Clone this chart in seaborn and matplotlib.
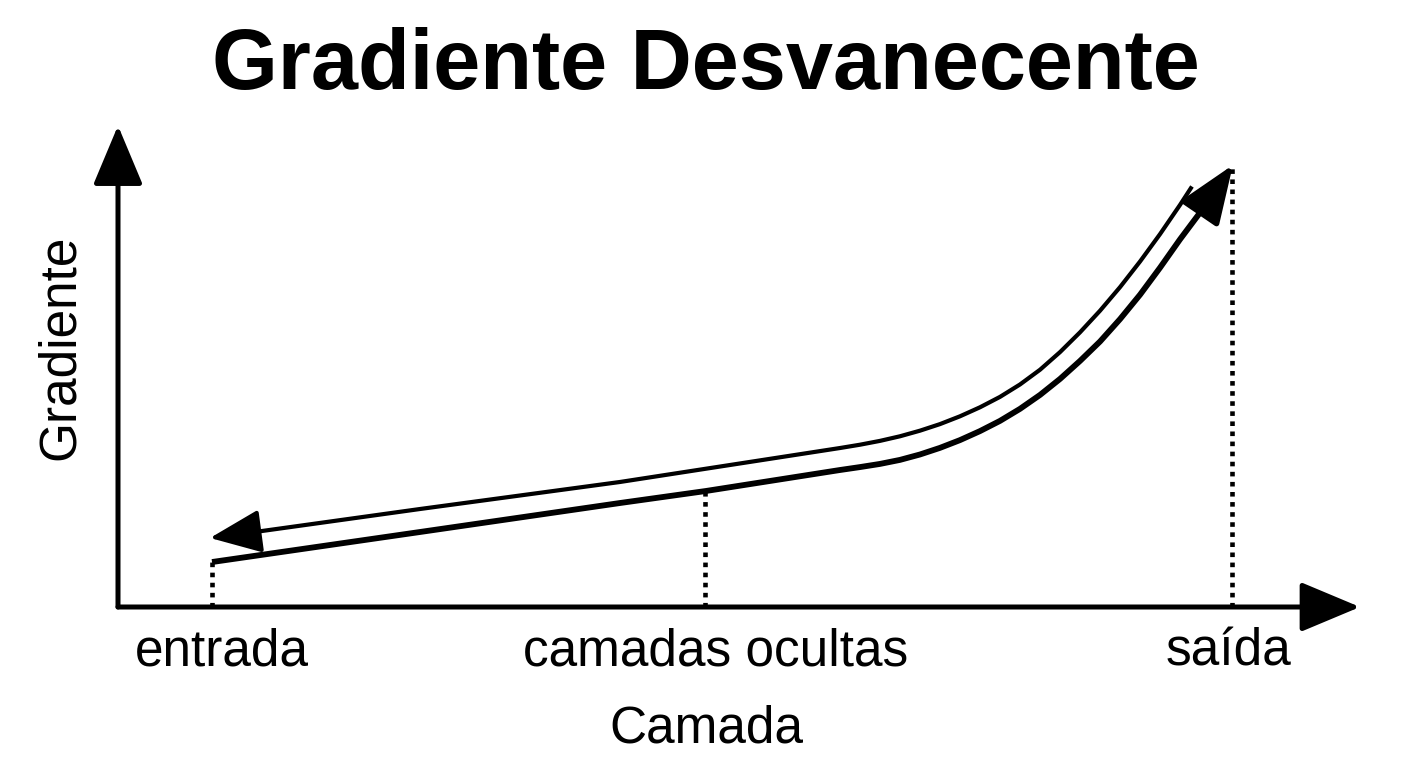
import matplotlib
matplotlib.use('Agg')
import matplotlib.pyplot as plt
import matplotlib.transforms as mtransforms
import seaborn as sns

sns.set_theme(style="white")
plt.rcParams['font.family'] = ['Liberation Sans', 'DejaVu Sans']

# layer positions on the x axis and their labels
layer_names = ["entrada", "camadas ocultas", "saída"]
layer_pos = [0.76, 4.73, 8.97]
layer_grad = [0.94, 2.42, 9.23]   # where the dotted lines meet the curve
label_shift_px = [9, 10, -4]       # labels sit a little off their guide line

# gradient magnitude (forward curve, thick, arrow at saída)
grad_x = [0.757, 2.432, 4.042, 4.734, 5.813, 5.974, 6.135, 6.296, 6.457, 6.618,
          6.779, 6.940, 7.101, 7.262, 7.424, 7.585, 7.746, 7.907, 8.068, 8.229,
          8.390, 8.551, 8.752, 8.977]
grad_y = [0.939, 1.566, 2.171, 2.422, 2.860, 2.921, 2.987, 3.071, 3.184, 3.322,
          3.484, 3.672, 3.885, 4.136, 4.428, 4.762, 5.138, 5.543, 6.010, 6.520,
          7.084, 7.676, 8.372, 9.228]

# backward pass (thin curve, arrow towards entrada)
back_x = [0.741, 1.103, 2.432, 4.042, 5.813, 5.974, 6.135, 6.296, 6.457, 6.618,
          6.779, 6.940, 7.101, 7.262, 7.424, 7.585, 7.746, 7.907, 8.068, 8.229,
          8.390, 8.551, 8.647]
back_y = [1.441, 1.566, 2.046, 2.610, 3.319, 3.388, 3.468, 3.564, 3.681, 3.818,
          3.981, 4.169, 4.386, 4.645, 4.954, 5.322, 5.735, 6.186, 6.678, 7.213,
          7.785, 8.395, 8.779]

fig = plt.figure(figsize=(14.08, 7.68), dpi=100)
ax = fig.add_axes([118 / 1408, 161 / 768, 1242 / 1408, 479 / 768])
ax.set_xlim(0, 10)
ax.set_ylim(0, 10)
sns.despine(ax=ax, left=True, bottom=True)

# axes drawn as arrows
ax_arrow = dict(arrowstyle="-|>,head_length=3.7,head_width=1.55", lw=3.6,
                color="black", shrinkA=0, shrinkB=0, mutation_scale=10)
ax.annotate("", xy=(10, 0), xytext=(0, 0), arrowprops=ax_arrow, annotation_clip=False)
ax.annotate("", xy=(0, 10.05), xytext=(0, 0), arrowprops=ax_arrow, annotation_clip=False)

# dotted guides
for xp, yp in zip(layer_pos, layer_grad):
    ax.plot([xp, xp], [0, yp], color="black", ls=(0, (1, 1.2)), lw=3.3)

# forward curve
sns.lineplot(x=grad_x[:-1], y=grad_y[:-1], sort=False, estimator=None,
             color="black", lw=4.2, ax=ax, solid_capstyle="butt")
ax.annotate("", xy=(grad_x[-1], grad_y[-1]), xytext=(grad_x[-2], grad_y[-2]),
            arrowprops=dict(arrowstyle="-|>,head_length=3.6,head_width=1.4", lw=4,
                            color="black", shrinkA=0, shrinkB=0, mutation_scale=10))

# backward curve
sns.lineplot(x=back_x[1:], y=back_y[1:], sort=False, estimator=None,
             color="black", lw=3.0, ax=ax, solid_capstyle="butt")
ax.annotate("", xy=(back_x[0], back_y[0]), xytext=(back_x[1], back_y[1]),
            arrowprops=dict(arrowstyle="-|>,head_length=3.2,head_width=1.35", lw=2.9,
                            color="black", shrinkA=0, shrinkB=0, mutation_scale=10))

ax.set_xticks(layer_pos, labels=layer_names)
ax.set_yticks([])
ax.tick_params(axis='x', length=0, pad=15, labelsize=37, colors="black")
for lab, dx in zip(ax.get_xticklabels(), label_shift_px):
    lab.set_transform(lab.get_transform() +
                      mtransforms.ScaledTranslation(dx / 100, 0, fig.dpi_scale_trans))

ax.set_xlabel("Camada", fontsize=37, color="black")
ax.xaxis.set_label_coords(0.4734, -0.203)
ax.set_ylabel("Gradiente", fontsize=37, color="black")
ax.yaxis.set_label_coords(-0.027, 0.543)

fig.text(706 / 1408, 1 - 89 / 768, "Gradiente Desvanecente", ha="center",
         va="baseline", fontsize=61, fontweight="bold", color="black")

fig.savefig("out.png", dpi=100, facecolor="white")
